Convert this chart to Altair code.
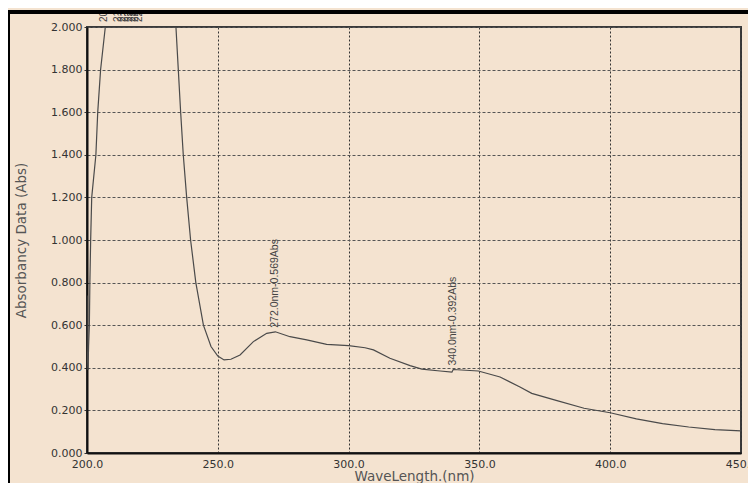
import altair as alt
import pandas as pd

# Spectrum
wavelength = [200.0, 200.1, 200.4, 200.6, 200.9, 201.1, 201.4, 201.8, 203.4, 204.1, 205.2, 207.0,
              234.0, 234.9, 235.8, 236.8, 238.1, 239.6, 241.6, 244.5, 247.4, 250.0, 252.4, 255.0,
              258.5, 263.6, 268.7, 272.0, 277.6, 284.0, 291.6, 300.0, 306.3, 309.5, 315.8, 323.5,
              328.0, 335.0, 339.5, 340.0, 349.6, 357.9, 365.5, 370.0, 380.0, 390.0, 400.0, 410.0,
              420.0, 430.0, 440.0, 450.0]
absorbance = [0.74, 0.46, 0.39, 0.50, 0.60, 0.80, 1.00, 1.20, 1.40, 1.60, 1.80, 2.00,
              2.00, 1.80, 1.60, 1.40, 1.20, 1.00, 0.80, 0.60, 0.50, 0.455, 0.437, 0.44,
              0.46, 0.523, 0.562, 0.569, 0.546, 0.531, 0.510, 0.504, 0.494, 0.484, 0.445, 0.410,
              0.394, 0.385, 0.380, 0.392, 0.385, 0.357, 0.31, 0.28, 0.245, 0.21, 0.189, 0.16,
              0.138, 0.122, 0.110, 0.104]

# Peak annotations
peak_wl = [272.0, 340.0]
peak_abs = [0.569, 0.392]
peak_text = ["272.0nm-0.569Abs", "340.0nm-0.392Abs"]

# Off-scale peak labels (cut off at the top)
top_wl = [206.5, 211.9, 213.2, 214.5, 215.9, 217.2, 218.5, 219.9]
top_abs = [2.0, 2.0, 2.0, 2.0, 2.0, 2.0, 2.0, 2.0]
top_text = ["20", "21", "21", "21", "22", "22", "22", "22"]

x_ticks = [200, 250, 300, 350, 400, 450]
y_ticks = [0.0, 0.2, 0.4, 0.6, 0.8, 1.0, 1.2, 1.4, 1.6, 1.8, 2.0]

W, H = 654, 426
BEIGE = "#F4E3D0"

spec = pd.DataFrame({"wl": wavelength, "abs": absorbance})
peaks = pd.DataFrame({"wl": peak_wl, "abs": peak_abs, "t": peak_text})
tops = pd.DataFrame({"wl": top_wl, "abs": top_abs, "t": top_text})

xs = alt.Scale(domain=[200, 450], nice=False, zero=False)
ys = alt.Scale(domain=[0, 2], nice=False, zero=False)

xaxis = alt.Axis(values=x_ticks, format=".1f", title="WaveLength.(nm)", grid=True,
                 gridDash=[2, 2], gridColor="#333333", gridWidth=1, gridOpacity=1,
                 tickSize=0, labelPadding=5, labelFont="DejaVu Sans", labelFontSize=11,
                 labelColor="#333333", labelFlush=False, domainColor="#111111", domainWidth=2,
                 titleFont="DejaVu Sans", titleFontSize=13.5, titleFontWeight="normal",
                 titleColor="#555555", titlePadding=0)
yaxis = alt.Axis(values=y_ticks, format=".3f", title="Absorbancy Data (Abs)", grid=True,
                 gridDash=[3, 2], gridColor="#555555", gridWidth=1, gridOpacity=1,
                 tickSize=3, tickColor="#333333", labelPadding=2, labelFont="DejaVu Sans",
                 labelFontSize=11, labelColor="#333333", labelFlush=False,
                 domainColor="#111111", domainWidth=2,
                 titleFont="DejaVu Sans", titleFontSize=13.5, titleFontWeight="normal",
                 titleColor="#555555", titlePadding=22)

line = alt.Chart(spec).mark_line(color="#4a4a4a", strokeWidth=1.2, clip=True).encode(
    x=alt.X("wl:Q", scale=xs, axis=xaxis),
    y=alt.Y("abs:Q", scale=ys, axis=yaxis),
    order="wl:Q",
)

ann = alt.Chart(peaks).mark_text(angle=270, align="left", baseline="middle", dx=4,
                                 font="Liberation Sans", fontSize=10.5, color="#444444").encode(
    x=alt.X("wl:Q", scale=xs), y=alt.Y("abs:Q", scale=ys), text="t:N")

topl = alt.Chart(tops).mark_text(angle=270, align="left", baseline="middle", dx=5,
                                 font="Liberation Sans", fontSize=10, color="#444444").encode(
    x=alt.X("wl:Q", scale=xs), y=alt.Y("abs:Q", scale=ys), text="t:N")

frame_top = alt.Chart(spec).mark_rule(color="#000000", strokeWidth=3).encode(
    x=alt.value(-80), x2=alt.value(W + 30), y=alt.value(-15))
frame_left = alt.Chart(spec).mark_rule(color="#000000", strokeWidth=3).encode(
    x=alt.value(-79), y=alt.value(-15), y2=alt.value(H + 40))

chart = alt.layer(line, ann, topl, frame_top, frame_left).properties(
    width=W, height=H,
    background=BEIGE,
    padding={"left": 79, "top": 19, "right": 7, "bottom": 30},
    autosize=alt.AutoSizeParams(type="none"),
).configure_view(fill=BEIGE, stroke="#3a3a3a", strokeWidth=2)

chart.save("out.html", embed_options={"renderer": "svg", "actions": False})
